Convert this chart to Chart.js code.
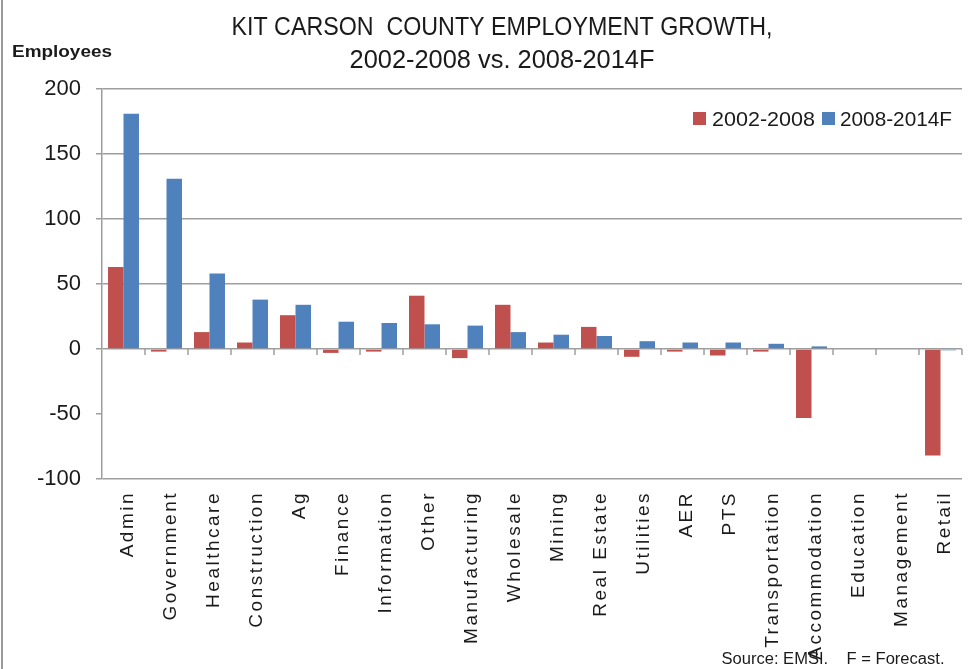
<!DOCTYPE html>
<html><head><meta charset="utf-8">
<script src="https://cdn.jsdelivr.net/npm/chart.js@4.4.0/dist/chart.umd.min.js"></script>
<style>
html,body{margin:0;padding:0;background:#fff;}
#wrap{position:relative;width:976px;height:669px;}
#frame{position:absolute;left:1px;top:0;width:2px;height:669px;background:#9a9a9a;}
canvas{display:block;}
</style>
</head><body>
<div id="wrap"><canvas id="c" width="976" height="669"></canvas><div id="frame"></div></div>
<script>
const categories = ['Admin','Government','Healthcare','Construction','Ag','Finance','Information','Other','Manufacturing','Wholesale','Mining','Real Estate','Utilities','AER','PTS','Transportation','Accommodation','Education','Management','Retail'];
const series2002_2008 = [63,-2,13,5,26,-3,-2,41,-7,34,5,17,-6,-2,-5,-2,-53,0,0,-82];
const series2008_2014F = [181,131,58,38,34,21,20,19,18,13,11,10,6,5,5,4,2,0,0,-1];
const seriesNames = ['2002-2008','2008-2014F'];
const seriesColors = ['#C0504D','#4F81BD'];
const yMin = -100, yMax = 200, yStep = 50;
const titleLines = ['KIT CARSON  COUNTY EMPLOYMENT GROWTH,','2002-2008 vs. 2008-2014F'];
const yAxisLabel = 'Employees';
const sourceNote = 'Source: EMSI.    F = Forecast.';

const GRID = '#9e9e9e';

function fitText(ctx, text, x, baseline, font, width, align, color){
  ctx.save();
  ctx.letterSpacing = '0px';
  ctx.font = font;
  const w = ctx.measureText(text).width;
  ctx.translate(x, baseline);
  ctx.scale(width / w, 1);
  ctx.textAlign = align || 'center';
  ctx.textBaseline = 'alphabetic';
  ctx.fillStyle = color || '#1a1a1a';
  ctx.fillText(text, 0, 0);
  ctx.restore();
}

const extras = {
  id: 'extras',
  beforeDraw(chart){ chart.ctx.letterSpacing = '0px'; },
  afterDatasetsDraw(chart){
    const ctx = chart.ctx, x = chart.scales.x, y = chart.scales.y;
    const y0 = y.getPixelForValue(0);
    ctx.save();
    ctx.strokeStyle = GRID; ctx.lineWidth = 1.5;
    ctx.beginPath();
    for (let i = 1; i <= categories.length; i++){
      const px = i < categories.length ? (x.getPixelForValue(i-1) + x.getPixelForValue(i)) / 2 : x.right;
      ctx.moveTo(px, y0); ctx.lineTo(px, y0 + 6);
    }
    ctx.stroke();
    ctx.restore();
    ctx.letterSpacing = '2.5px';
  },
  afterDraw(chart){
    const ctx = chart.ctx;
    ctx.letterSpacing = '0px';
    fitText(ctx, titleLines[0], 502, 35, '26px "Liberation Sans"', 541);
    fitText(ctx, titleLines[1], 502, 68, '26px "Liberation Sans"', 305);
    fitText(ctx, yAxisLabel, 62, 57, 'bold 16px "Liberation Sans"', 100);
    fitText(ctx, sourceNote, 833, 664, '16px "Liberation Sans"', 223);
    // legend
    const ds = chart.data.datasets;
    const boxX = [693, 822], textX = [712, 840], textW = [103, 112];
    ds.forEach((d, i) => {
      ctx.save();
      ctx.fillStyle = d.backgroundColor;
      ctx.fillRect(boxX[i], 112, 13, 13);
      ctx.restore();
      fitText(ctx, d.label, textX[i], 126, '21px "Liberation Sans"', textW[i], 'left');
    });
  }
};

new Chart(document.getElementById('c'), {
  type: 'bar',
  data: {
    labels: categories,
    datasets: [
      {label: seriesNames[0], data: series2002_2008, backgroundColor: seriesColors[0], categoryPercentage: 0.72, barPercentage: 1.0},
      {label: seriesNames[1], data: series2008_2014F, backgroundColor: seriesColors[1], categoryPercentage: 0.72, barPercentage: 1.0}
    ]
  },
  options: {
    responsive: false,
    devicePixelRatio: 1,
    animation: false,
    layout: {padding: {top: 89, right: 14, left: 0, bottom: 0}},
    plugins: {
      title: {display: false},
      tooltip: {enabled: false},
      legend: {display: false}
    },
    scales: {
      x: {
        grid: {display: false},
        border: {display: false},
        ticks: {
          z: 1, autoSkip: false, minRotation: 90, maxRotation: 90, padding: 4, labelOffset: 4,
          color: '#1a1a1a', font: {family: '"Liberation Sans"', size: 19}
        },
        afterFit(scale){ scale.height = 190; }
      },
      y: {
        min: yMin, max: yMax,
        grid: {
          color: (c) => (c.tick && c.tick.value === -50) ? 'rgba(0,0,0,0)' : GRID,
          tickColor: GRID, lineWidth: 1.5, tickLength: 6
        },
        border: {display: true, color: GRID, width: 1.5},
        ticks: {stepSize: yStep, padding: 15, color: '#1a1a1a', font: {family: '"Liberation Sans"', size: 22}},
        afterFit(scale){ scale.width = 102; }
      }
    }
  },
  plugins: [extras]
});
</script>
</body></html>
